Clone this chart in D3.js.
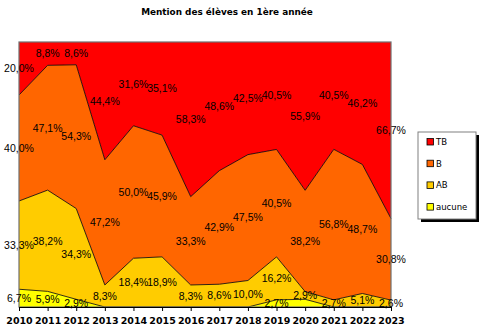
<!DOCTYPE html>
<html>
<head>
<meta charset="utf-8">
<script src="https://cdn.jsdelivr.net/npm/d3@7"></script>
<style>
  html, body { margin: 0; padding: 0; background: #fff; }
  svg { display: block; }
</style>
</head>
<body>
<svg id="chart" width="481" height="333"></svg>
<script>
// Mentions obtenues par les élèves de 1ère année, en % par année
const years  = [2010, 2011, 2012, 2013, 2014, 2015, 2016, 2017, 2018, 2019, 2020, 2021, 2022, 2023];
const aucune = [6.7, 5.9, 2.9, 0, 0, 0, 0, 0, 0, 2.7, 2.9, 0, 0, 0];
const AB     = [33.3, 38.2, 34.3, 8.3, 18.4, 18.9, 8.3, 8.6, 10.0, 16.2, 2.9, 2.7, 5.1, 2.6];
const B      = [40.0, 47.1, 54.3, 47.2, 50.0, 45.9, 33.3, 42.9, 47.5, 40.5, 38.2, 56.8, 48.7, 30.8];
const TB     = [20.0, 8.8, 8.6, 44.4, 31.6, 35.1, 58.3, 48.6, 42.5, 40.5, 55.9, 40.5, 46.2, 66.7];

const seriesNames = ["aucune", "AB", "B", "TB"];
const seriesColors = ["#FFFF00", "#FFCC00", "#FF6600", "#FF0000"];
// labels not printed on the chart
const hiddenLabels = [["aucune", 2020]];

const rows = years.map((y, i) => ({ year: y, aucune: aucune[i], AB: AB[i], B: B[i], TB: TB[i] }));

const svg = d3.select("#chart");
const plot = { left: 19, right: 391, top: 42, bottom: 307 };

const x = d3.scaleLinear().domain([years[0], years[years.length - 1]]).range([plot.left, plot.right]);
const y = d3.scaleLinear().domain([0, 1]).range([plot.bottom, plot.top]);

const stack = d3.stack().keys(seriesNames).offset(d3.stackOffsetExpand);
const layers = stack(rows);

const color = d3.scaleOrdinal().domain(seriesNames).range(seriesColors);

// Title
svg.append("text")
  .attr("x", 227).attr("y", 15)
  .attr("text-anchor", "middle")
  .style("font-family", "DejaVu Sans, Verdana, sans-serif")
  .style("font-weight", "bold")
  .style("font-size", "8.9px")
  .text("Mention des élèves en 1ère année");

// Stacked areas
const area = d3.area()
  .x(d => x(d.data.year))
  .y0(d => y(d[0]))
  .y1(d => y(d[1]));

svg.append("g").selectAll("path")
  .data(layers)
  .join("path")
  .attr("d", area)
  .attr("fill", d => color(d.key));

// Series outlines
const topLine = d3.line().x(d => x(d.data.year)).y(d => y(d[1]));
svg.append("g").selectAll("path")
  .data(layers.slice(0, 3))
  .join("path")
  .attr("d", topLine)
  .attr("fill", "none")
  .attr("stroke", "#000")
  .attr("stroke-width", 0.8);

// Plot frame
svg.append("rect")
  .attr("x", plot.left).attr("y", plot.top)
  .attr("width", plot.right - plot.left).attr("height", plot.bottom - plot.top)
  .attr("fill", "none")
  .attr("stroke", "#707070")
  .attr("stroke-width", 1.2);

// X axis
const xAxis = d3.axisBottom(x)
  .tickValues(years)
  .tickFormat(d3.format("d"))
  .tickSize(4)
  .tickSizeOuter(0);
const gx = svg.append("g")
  .attr("transform", `translate(0,${plot.bottom})`)
  .call(xAxis);
gx.select(".domain").attr("stroke", "#000");
gx.selectAll(".tick line").attr("stroke", "#000");
gx.selectAll(".tick text")
  .attr("y", 10)
  .style("font-family", "DejaVu Sans, Verdana, sans-serif")
  .style("font-weight", "bold")
  .style("font-size", "9.5px")
  .attr("fill", "#000");

// Data labels, centred in each band
const fmt = v => d3.format(".1f")(v).replace(".", ",") + "%";
const labels = [];
layers.forEach(layer => {
  layer.forEach((d, i) => {
    const v = d.data[layer.key];
    if (v <= 0) return;
    if (hiddenLabels.some(h => h[0] === layer.key && h[1] === d.data.year)) return;
    labels.push({ x: x(d.data.year), y: y((d[0] + d[1]) / 2), text: fmt(v) });
  });
});
svg.append("g").selectAll("text")
  .data(labels)
  .join("text")
  .attr("x", d => d.x)
  .attr("y", d => d.y)
  .attr("dy", "0.36em")
  .attr("text-anchor", "middle")
  .style("font-family", "Liberation Sans, Arial, sans-serif")
  .style("font-size", "10.5px")
  .attr("fill", "#000")
  .text(d => d.text);

// Legend
const lg = svg.append("g").attr("transform", "translate(418,132)");
lg.append("rect").attr("x", 3).attr("y", 3).attr("width", 58).attr("height", 87).attr("fill", "#000");
lg.append("rect").attr("x", 0).attr("y", 0).attr("width", 58).attr("height", 87)
  .attr("fill", "#fff").attr("stroke", "#808080").attr("stroke-width", 1);
const legendOrder = seriesNames.slice().reverse();
const item = lg.selectAll("g.item")
  .data(legendOrder)
  .join("g")
  .attr("class", "item")
  .attr("transform", (d, i) => `translate(9,${10 + i * 21.7})`);
item.append("rect")
  .attr("x", 0).attr("y", -3.5)
  .attr("width", 6.5).attr("height", 6.5)
  .attr("fill", d => color(d))
  .attr("stroke", "#000").attr("stroke-width", 0.8);
item.append("text")
  .attr("x", 9).attr("y", 0)
  .attr("dy", "0.36em")
  .style("font-family", "DejaVu Sans, Verdana, sans-serif")
  .style("font-size", "8.5px")
  .attr("fill", "#000")
  .text(d => d);
</script>
</body>
</html>
